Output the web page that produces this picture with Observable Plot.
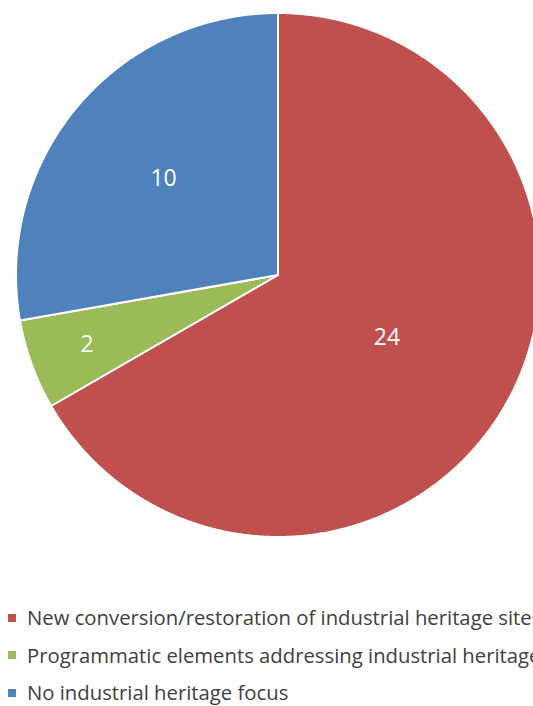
<!DOCTYPE html>
<html>
<head>
<meta charset="utf-8">
<script src="https://cdn.jsdelivr.net/npm/d3@7"></script>
<script src="https://cdn.jsdelivr.net/npm/@observablehq/plot@0.6"></script>
<style>
  html, body { margin: 0; padding: 0; background: #fff; overflow: hidden; width: 533px; height: 706px; }
  #chart { width: 533px; overflow: hidden; }
  #legend { width: 533px; overflow: hidden; font-family: "Open Sans", sans-serif; font-size: 20.3px; color: #404040; margin-top: 39px; }
  .item { white-space: nowrap; height: 37.5px; line-height: 37.5px; display: flex; align-items: center; }
  .sw { display: inline-block; width: 8px; height: 8px; margin-left: 8px; margin-right: 11px; flex: none; }
</style>
</head>
<body>
<div id="chart"></div>
<div id="legend"></div>
<script>
const categories = [
  "New conversion/restoration of industrial heritage sites",
  "Programmatic elements addressing industrial heritage",
  "No industrial heritage focus"
];
const values = [24, 2, 10];
const colors = ["#C0504D", "#9BBB59", "#4F81BD"];

const W = 533, H = 560, cx = 277.5, cy = 274.5, R = 262;

const arcs = d3.pie().sort(null).value(d => d.value)(
  categories.map((name, i) => ({name, value: values[i]}))
);

// polygon points in unit-radius data space
const pts = [];
arcs.forEach(a => {
  const name = a.data.name;
  pts.push({name, x: 0, y: 0});
  const n = Math.max(2, Math.ceil((a.endAngle - a.startAngle) / 0.005));
  for (let k = 0; k <= n; k++) {
    const t = a.startAngle + (a.endAngle - a.startAngle) * k / n;
    pts.push({name, x: Math.sin(t), y: Math.cos(t)});
  }
  pts.push({name, x: 0, y: 0});
});

const labels = arcs.map(a => {
  const m = (a.startAngle + a.endAngle) / 2;
  const frac = (a.endAngle - a.startAngle) / (2 * Math.PI);
  const rr = frac < 0.1 ? 0.775 : (frac > 0.5 ? 0.48 : 0.57);
  return {x: rr * Math.sin(m), y: rr * Math.cos(m), label: String(a.data.value)};
});

const plot = Plot.plot({
  width: W, height: H,
  margin: 0,
  x: {domain: [-cx / R, (W - cx) / R], axis: null},
  y: {domain: [-(H - cy) / R, cy / R], axis: null},
  color: {domain: categories, range: colors},
  marks: [
    Plot.line(pts, {x: "x", y: "y", z: "name", fill: "name", stroke: "white", strokeWidth: 2, strokeLinejoin: "round", curve: "linear"}),
    Plot.text(labels, {x: "x", y: "y", text: "label", fill: "white", fontSize: 23, fontFamily: "Open Sans, sans-serif"})
  ]
});
document.getElementById("chart").appendChild(plot);

const legend = document.getElementById("legend");
categories.forEach((c, i) => {
  const div = document.createElement("div");
  div.className = "item";
  const sw = document.createElement("span");
  sw.className = "sw";
  sw.style.background = colors[i];
  div.appendChild(sw);
  div.appendChild(document.createTextNode(c));
  legend.appendChild(div);
});
</script>
</body>
</html>
